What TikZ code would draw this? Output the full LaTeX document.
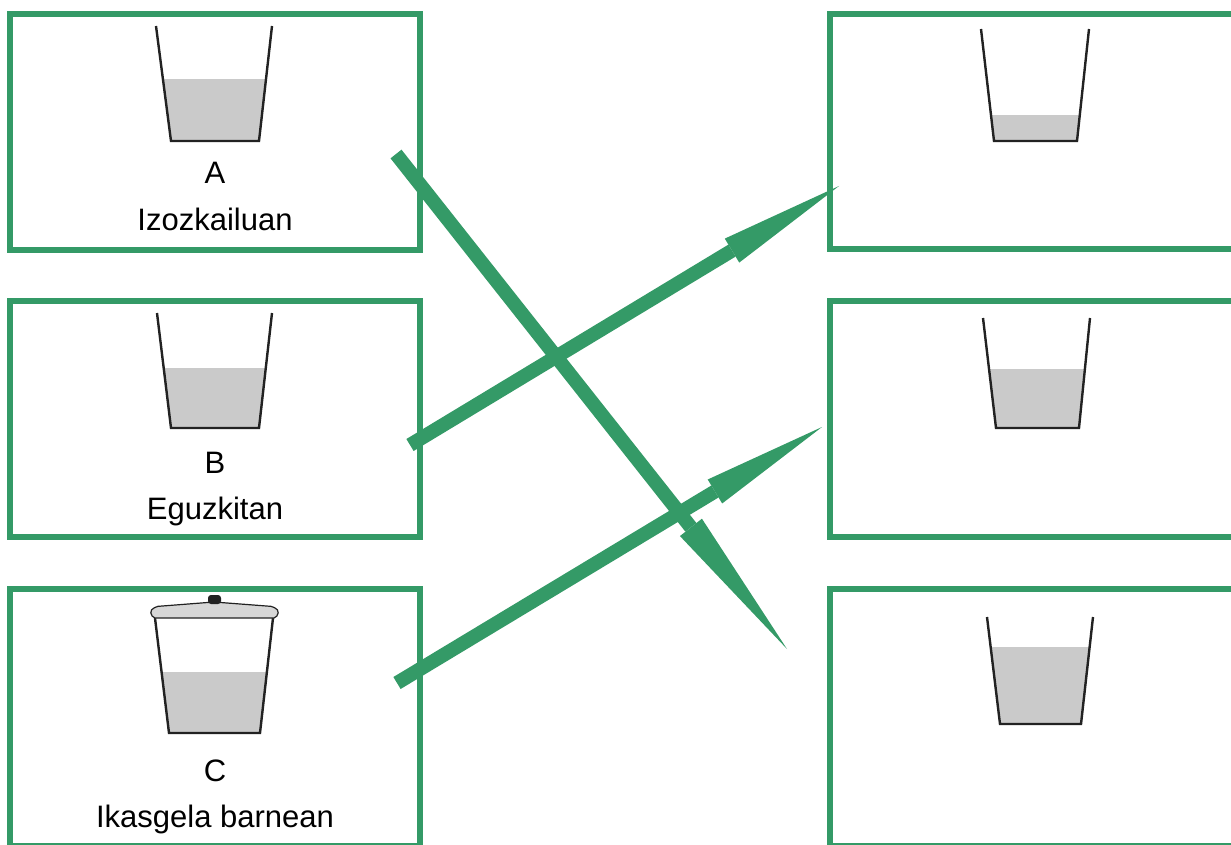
\documentclass[tikz,border=0pt]{standalone}
\usepackage{fontspec}
\setmainfont{Liberation Sans}
\usetikzlibrary{arrows.meta}
\definecolor{frame}{RGB}{52,154,103}
\definecolor{water}{RGB}{202,202,202}
\definecolor{glass}{RGB}{34,34,34}
\definecolor{lidgray}{RGB}{215,215,215}
\newcommand{\beaker}[7]{%
  \begin{scope}
    \clip (0,#7) rectangle (1231,#4);
    \fill[water] (#1,#2) -- (#3,#4) -- (#5,#4) -- (#6,#2) -- cycle;
  \end{scope}
  \draw[glassline] (#1,#2) -- (#3,#4) -- (#5,#4) -- (#6,#2);
}
\tikzset{
  panel/.style={rectangle, draw=frame, line width=6pt, minimum width=410pt,
    inner sep=0pt, outer sep=0pt},
  glassline/.style={draw=glass, line width=2.4pt},
  lbl/.style={anchor=base, inner sep=0pt, font=\fontsize{31}{37}\selectfont},
  longarrow/.style={draw=frame, line width=14pt,
    -{Triangle[length=#1, width=28pt, line width=0pt]}},
}
\begin{document}
\begin{tikzpicture}[x=1pt, y=-1pt]
\useasboundingbox (0,0) rectangle (1231,845);
\clip (0,0) rectangle (1231,845);

% panels
\node[panel, minimum height=235.5pt] (boxA) at (215,131.75) {};
\node[panel, minimum height=236pt] (boxB) at (215,419) {};
\node[panel, minimum height=257pt] (boxC) at (215,717.5) {};
\node[panel, minimum height=235pt] (boxR1) at (1034.5,131.5) {};
\node[panel, minimum height=236pt] (boxR2) at (1034.5,419) {};
\node[panel, minimum height=257pt] (boxR3) at (1034.5,717.5) {};

% beakers
\beaker{156}{26}{171}{141}{259}{272}{80}
\beaker{157}{313}{171}{428}{259}{272}{368}
\beaker{155}{618}{169}{733}{260}{273}{672}
\beaker{981}{29}{994}{141}{1077}{1089}{116}
\beaker{983}{318}{996}{428}{1079}{1090}{369}
\beaker{987}{617}{1000}{724}{1081}{1093}{647}

% lid of beaker C
\filldraw[fill=lidgray, draw=glass, line width=1.2pt, rounded corners=2pt]
  (153,618) -- (150,611) -- (156,606.5) -- (214,602) -- (273,606.5) -- (279,611) -- (276,618) -- cycle;
\fill[glass, rounded corners=3pt] (208,604) rectangle (221,595);

% labels
\node[lbl] (labA) at (215,184) {A};
\node[lbl] (txtA) at (215,230) {Izozkailuan};
\node[lbl] (labB) at (215,473) {B};
\node[lbl] (txtB) at (215,519) {Eguzkitan};
\node[lbl] (labC) at (215,781) {C};
\node[lbl] (txtC) at (215,827) {Ikasgela barnean};

% arrow ends
\coordinate (tailA) at (396,154);
\coordinate (tipA) at (787,649);
\coordinate (tailB) at (410,445);
\coordinate (tipB) at (839,186);
\coordinate (tailC) at (397,683);
\coordinate (tipC) at (822,427);

\draw[longarrow=155pt] (tailA) -- (tipA);
\draw[longarrow=125pt] (tailB) -- (tipB);
\draw[longarrow=125pt] (tailC) -- (tipC);
\end{tikzpicture}
\end{document}
